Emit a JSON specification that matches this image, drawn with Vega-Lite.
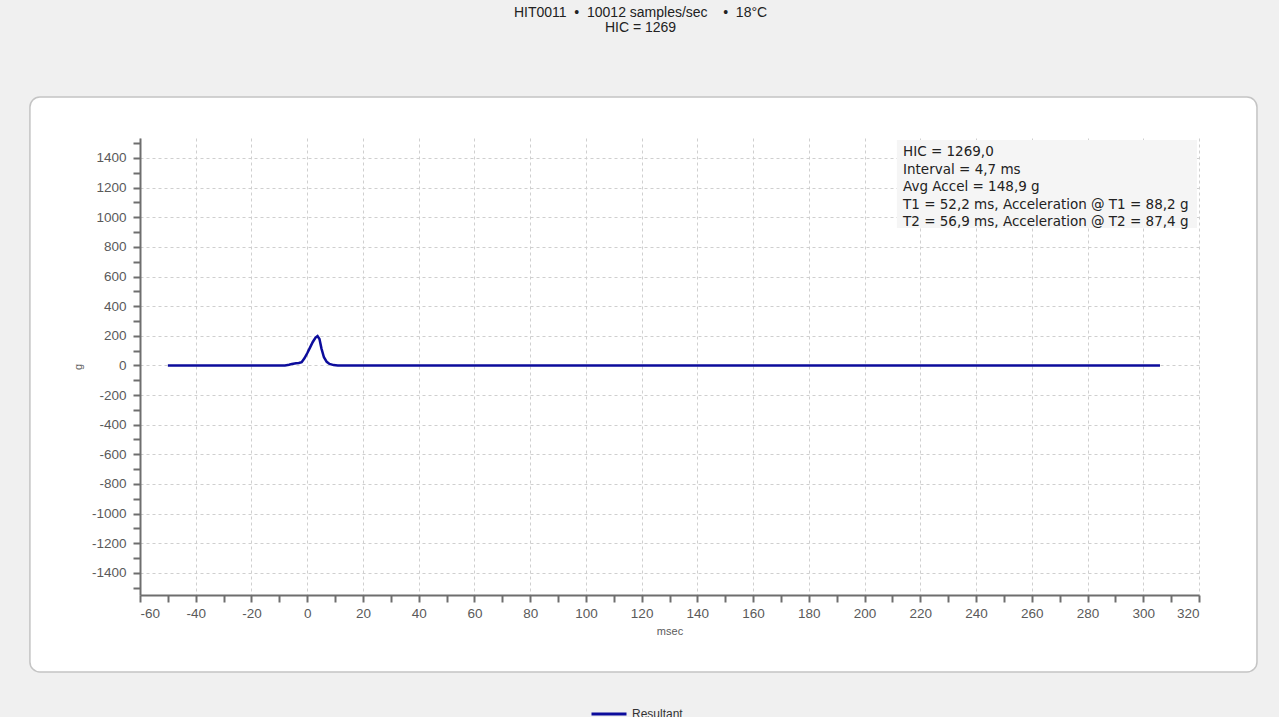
{
  "$schema": "https://vega.github.io/schema/vega-lite/v6.json",
  "width": 1059,
  "height": 457,
  "autosize": {"type": "none"},
  "padding": {"left": 140, "top": 138, "right": 80, "bottom": 122},
  "background": "#ffffff",
  "config": {
    "view": {"stroke": null},
    "font": "Liberation Sans",
    "axis": {
      "domainColor": "#6e6e6e",
      "domainWidth": 2,
      "tickColor": "#6e6e6e",
      "tickWidth": 2,
      "tickSize": 7,
      "labelColor": "#5a5a5a",
      "labelFontSize": 13.5,
      "labelFont": "Liberation Sans",
      "titleFont": "Liberation Sans",
      "titleFontSize": 11,
      "titleFontWeight": "normal",
      "titleColor": "#5a5a5a",
      "grid": true,
      "gridColor": "#cfcfcf",
      "gridDash": [3, 3],
      "gridWidth": 1
    },
    "axisX": {"labelPadding": 4, "titlePadding": 6},
    "axisY": {"labelPadding": 7, "titlePadding": 8}
  },
  "title": {
    "text": ["HIT0011\u00a0\u00a0•\u00a0\u00a010012 samples/sec\u00a0\u00a0\u00a0\u00a0•\u00a0\u00a018°C", "HIC = 1269"],
    "fontSize": 14,
    "fontWeight": "normal",
    "color": "#222222",
    "lineHeight": 15,
    "anchor": "middle",
    "frame": "group",
    "dx": -29,
    "offset": -138,
    "font": "Liberation Sans"
  },
  "datasets": {
    "resultant": [
      {"series": "Resultant", "msec": -50, "g": 0},
      {"series": "Resultant", "msec": -8, "g": 0},
      {"series": "Resultant", "msec": -6.5, "g": 4},
      {"series": "Resultant", "msec": -5.5, "g": 10},
      {"series": "Resultant", "msec": -4, "g": 14},
      {"series": "Resultant", "msec": -3, "g": 16},
      {"series": "Resultant", "msec": -2, "g": 22},
      {"series": "Resultant", "msec": -1, "g": 48},
      {"series": "Resultant", "msec": 0, "g": 82},
      {"series": "Resultant", "msec": 1, "g": 120},
      {"series": "Resultant", "msec": 2, "g": 158},
      {"series": "Resultant", "msec": 3, "g": 188},
      {"series": "Resultant", "msec": 3.7, "g": 198},
      {"series": "Resultant", "msec": 4.4, "g": 178},
      {"series": "Resultant", "msec": 5.1, "g": 115},
      {"series": "Resultant", "msec": 6, "g": 55},
      {"series": "Resultant", "msec": 7, "g": 24},
      {"series": "Resultant", "msec": 8, "g": 10},
      {"series": "Resultant", "msec": 9.5, "g": 2},
      {"series": "Resultant", "msec": 11, "g": 0},
      {"series": "Resultant", "msec": 306, "g": 0}
    ],
    "one": [{"item": "panel"}]
  },
  "layer": [
    {
      "data": {"name": "one"},
      "mark": {"type": "rect", "filled": false, "stroke": "#f0f0f0", "strokeWidth": 200, "cornerRadius": 110, "clip": false},
      "encoding": {
        "x": {"datum": -135.4, "type": "quantitative", "scale": {"domain": [-60, 320], "nice": false, "zero": false},
          "axis": {"title": "msec", "values": [-60,-50,-40,-30,-20,-10,0,10,20,30,40,50,60,70,80,90,100,110,120,130,140,150,160,170,180,190,200,210,220,230,240,250,260,270,280,290,300,310,320], "labelExpr": "datum.value % 20 === 0 ? '' + datum.value : ''", "gridOpacity": {"condition": {"test": "datum.value % 20 === 0", "value": 1}, "value": 0}}},
        "x2": {"datum": 376.7},
        "y": {"datum": 2486.8, "type": "quantitative", "scale": {"domain": [-1550, 1535], "nice": false, "zero": false},
          "axis": {"title": "g", "values": [-1500,-1400,-1300,-1200,-1100,-1000,-900,-800,-700,-600,-500,-400,-300,-200,-100,0,100,200,300,400,500,600,700,800,900,1000,1100,1200,1300,1400,1500], "labelExpr": "datum.value % 200 === 0 ? '' + datum.value : ''", "gridOpacity": {"condition": {"test": "datum.value % 200 === 0", "value": 1}, "value": 0}}},
        "y2": {"datum": -2744.7}
      }
    },
    {
      "data": {"name": "one"},
      "mark": {"type": "rect", "filled": false, "stroke": "#c4c4c4", "strokeWidth": 1.5, "cornerRadius": 10, "clip": false},
      "encoding": {
        "x": {"datum": -99.5, "type": "quantitative",
          "axis": {"title": "msec", "values": [-60,-50,-40,-30,-20,-10,0,10,20,30,40,50,60,70,80,90,100,110,120,130,140,150,160,170,180,190,200,210,220,230,240,250,260,270,280,290,300,310,320], "labelExpr": "datum.value % 20 === 0 ? '' + datum.value : ''", "gridOpacity": {"condition": {"test": "datum.value % 20 === 0", "value": 1}, "value": 0}}},
        "x2": {"datum": 340.8},
        "y": {"datum": 1811.8, "type": "quantitative",
          "axis": {"title": "g", "values": [-1500,-1400,-1300,-1200,-1100,-1000,-900,-800,-700,-600,-500,-400,-300,-200,-100,0,100,200,300,400,500,600,700,800,900,1000,1100,1200,1300,1400,1500], "labelExpr": "datum.value % 200 === 0 ? '' + datum.value : ''", "gridOpacity": {"condition": {"test": "datum.value % 200 === 0", "value": 1}, "value": 0}}},
        "y2": {"datum": -2069.7}
      }
    },
    {
      "data": {"name": "one"},
      "mark": {"type": "rect", "fill": "#f5f5f5", "clip": false},
      "encoding": {
        "x": {"datum": 211.6, "type": "quantitative",
          "axis": {"title": "msec", "values": [-60,-50,-40,-30,-20,-10,0,10,20,30,40,50,60,70,80,90,100,110,120,130,140,150,160,170,180,190,200,210,220,230,240,250,260,270,280,290,300,310,320], "labelExpr": "datum.value % 20 === 0 ? '' + datum.value : ''", "gridOpacity": {"condition": {"test": "datum.value % 20 === 0", "value": 1}, "value": 0}}},
        "x2": {"datum": 319.3},
        "y": {"datum": 1521.5, "type": "quantitative",
          "axis": {"title": "g", "values": [-1500,-1400,-1300,-1200,-1100,-1000,-900,-800,-700,-600,-500,-400,-300,-200,-100,0,100,200,300,400,500,600,700,800,900,1000,1100,1200,1300,1400,1500], "labelExpr": "datum.value % 200 === 0 ? '' + datum.value : ''", "gridOpacity": {"condition": {"test": "datum.value % 200 === 0", "value": 1}, "value": 0}}},
        "y2": {"datum": 927.5}
      }
    },
    {
      "data": {"name": "resultant"},
      "mark": {"type": "line", "strokeWidth": 2.5, "interpolate": "linear"},
      "encoding": {
        "x": {"field": "msec", "type": "quantitative",
          "axis": {"title": "msec", "values": [-60,-50,-40,-30,-20,-10,0,10,20,30,40,50,60,70,80,90,100,110,120,130,140,150,160,170,180,190,200,210,220,230,240,250,260,270,280,290,300,310,320], "labelExpr": "datum.value % 20 === 0 ? '' + datum.value : ''", "gridOpacity": {"condition": {"test": "datum.value % 20 === 0", "value": 1}, "value": 0}}},
        "y": {"field": "g", "type": "quantitative",
          "axis": {"title": "g", "values": [-1500,-1400,-1300,-1200,-1100,-1000,-900,-800,-700,-600,-500,-400,-300,-200,-100,0,100,200,300,400,500,600,700,800,900,1000,1100,1200,1300,1400,1500], "labelExpr": "datum.value % 200 === 0 ? '' + datum.value : ''", "gridOpacity": {"condition": {"test": "datum.value % 200 === 0", "value": 1}, "value": 0}}},
        "color": {
          "field": "series",
          "type": "nominal",
          "scale": {"range": ["#0c0c9c"]},
          "legend": {
            "title": null,
            "orient": "none",
            "legendX": 450,
            "legendY": 557,
            "symbolType": "stroke",
            "symbolSize": 1225,
            "symbolStrokeWidth": 3,
            "labelFontSize": 12,
            "labelColor": "#333333",
            "labelFont": "Liberation Sans",
            "padding": 0
          }
        }
      }
    },
    {
      "data": {"name": "one"},
      "mark": {
        "type": "text",
        "align": "left",
        "baseline": "top",
        "fontSize": 13.5,
        "lineHeight": 17.5,
        "color": "#222222",
        "font": "DejaVu Sans",
        "clip": false
      },
      "encoding": {
        "x": {"datum": 213.8, "type": "quantitative",
          "axis": {"title": "msec", "values": [-60,-50,-40,-30,-20,-10,0,10,20,30,40,50,60,70,80,90,100,110,120,130,140,150,160,170,180,190,200,210,220,230,240,250,260,270,280,290,300,310,320], "labelExpr": "datum.value % 20 === 0 ? '' + datum.value : ''", "gridOpacity": {"condition": {"test": "datum.value % 20 === 0", "value": 1}, "value": 0}}},
        "y": {"datum": 1487, "type": "quantitative",
          "axis": {"title": "g", "values": [-1500,-1400,-1300,-1200,-1100,-1000,-900,-800,-700,-600,-500,-400,-300,-200,-100,0,100,200,300,400,500,600,700,800,900,1000,1100,1200,1300,1400,1500], "labelExpr": "datum.value % 200 === 0 ? '' + datum.value : ''", "gridOpacity": {"condition": {"test": "datum.value % 200 === 0", "value": 1}, "value": 0}}},
        "text": {"value": ["HIC = 1269,0", "Interval = 4,7 ms", "Avg Accel = 148,9 g", "T1 = 52,2 ms, Acceleration @ T1 = 88,2 g", "T2 = 56,9 ms, Acceleration @ T2 = 87,4 g"]}
      }
    }
  ]
}
